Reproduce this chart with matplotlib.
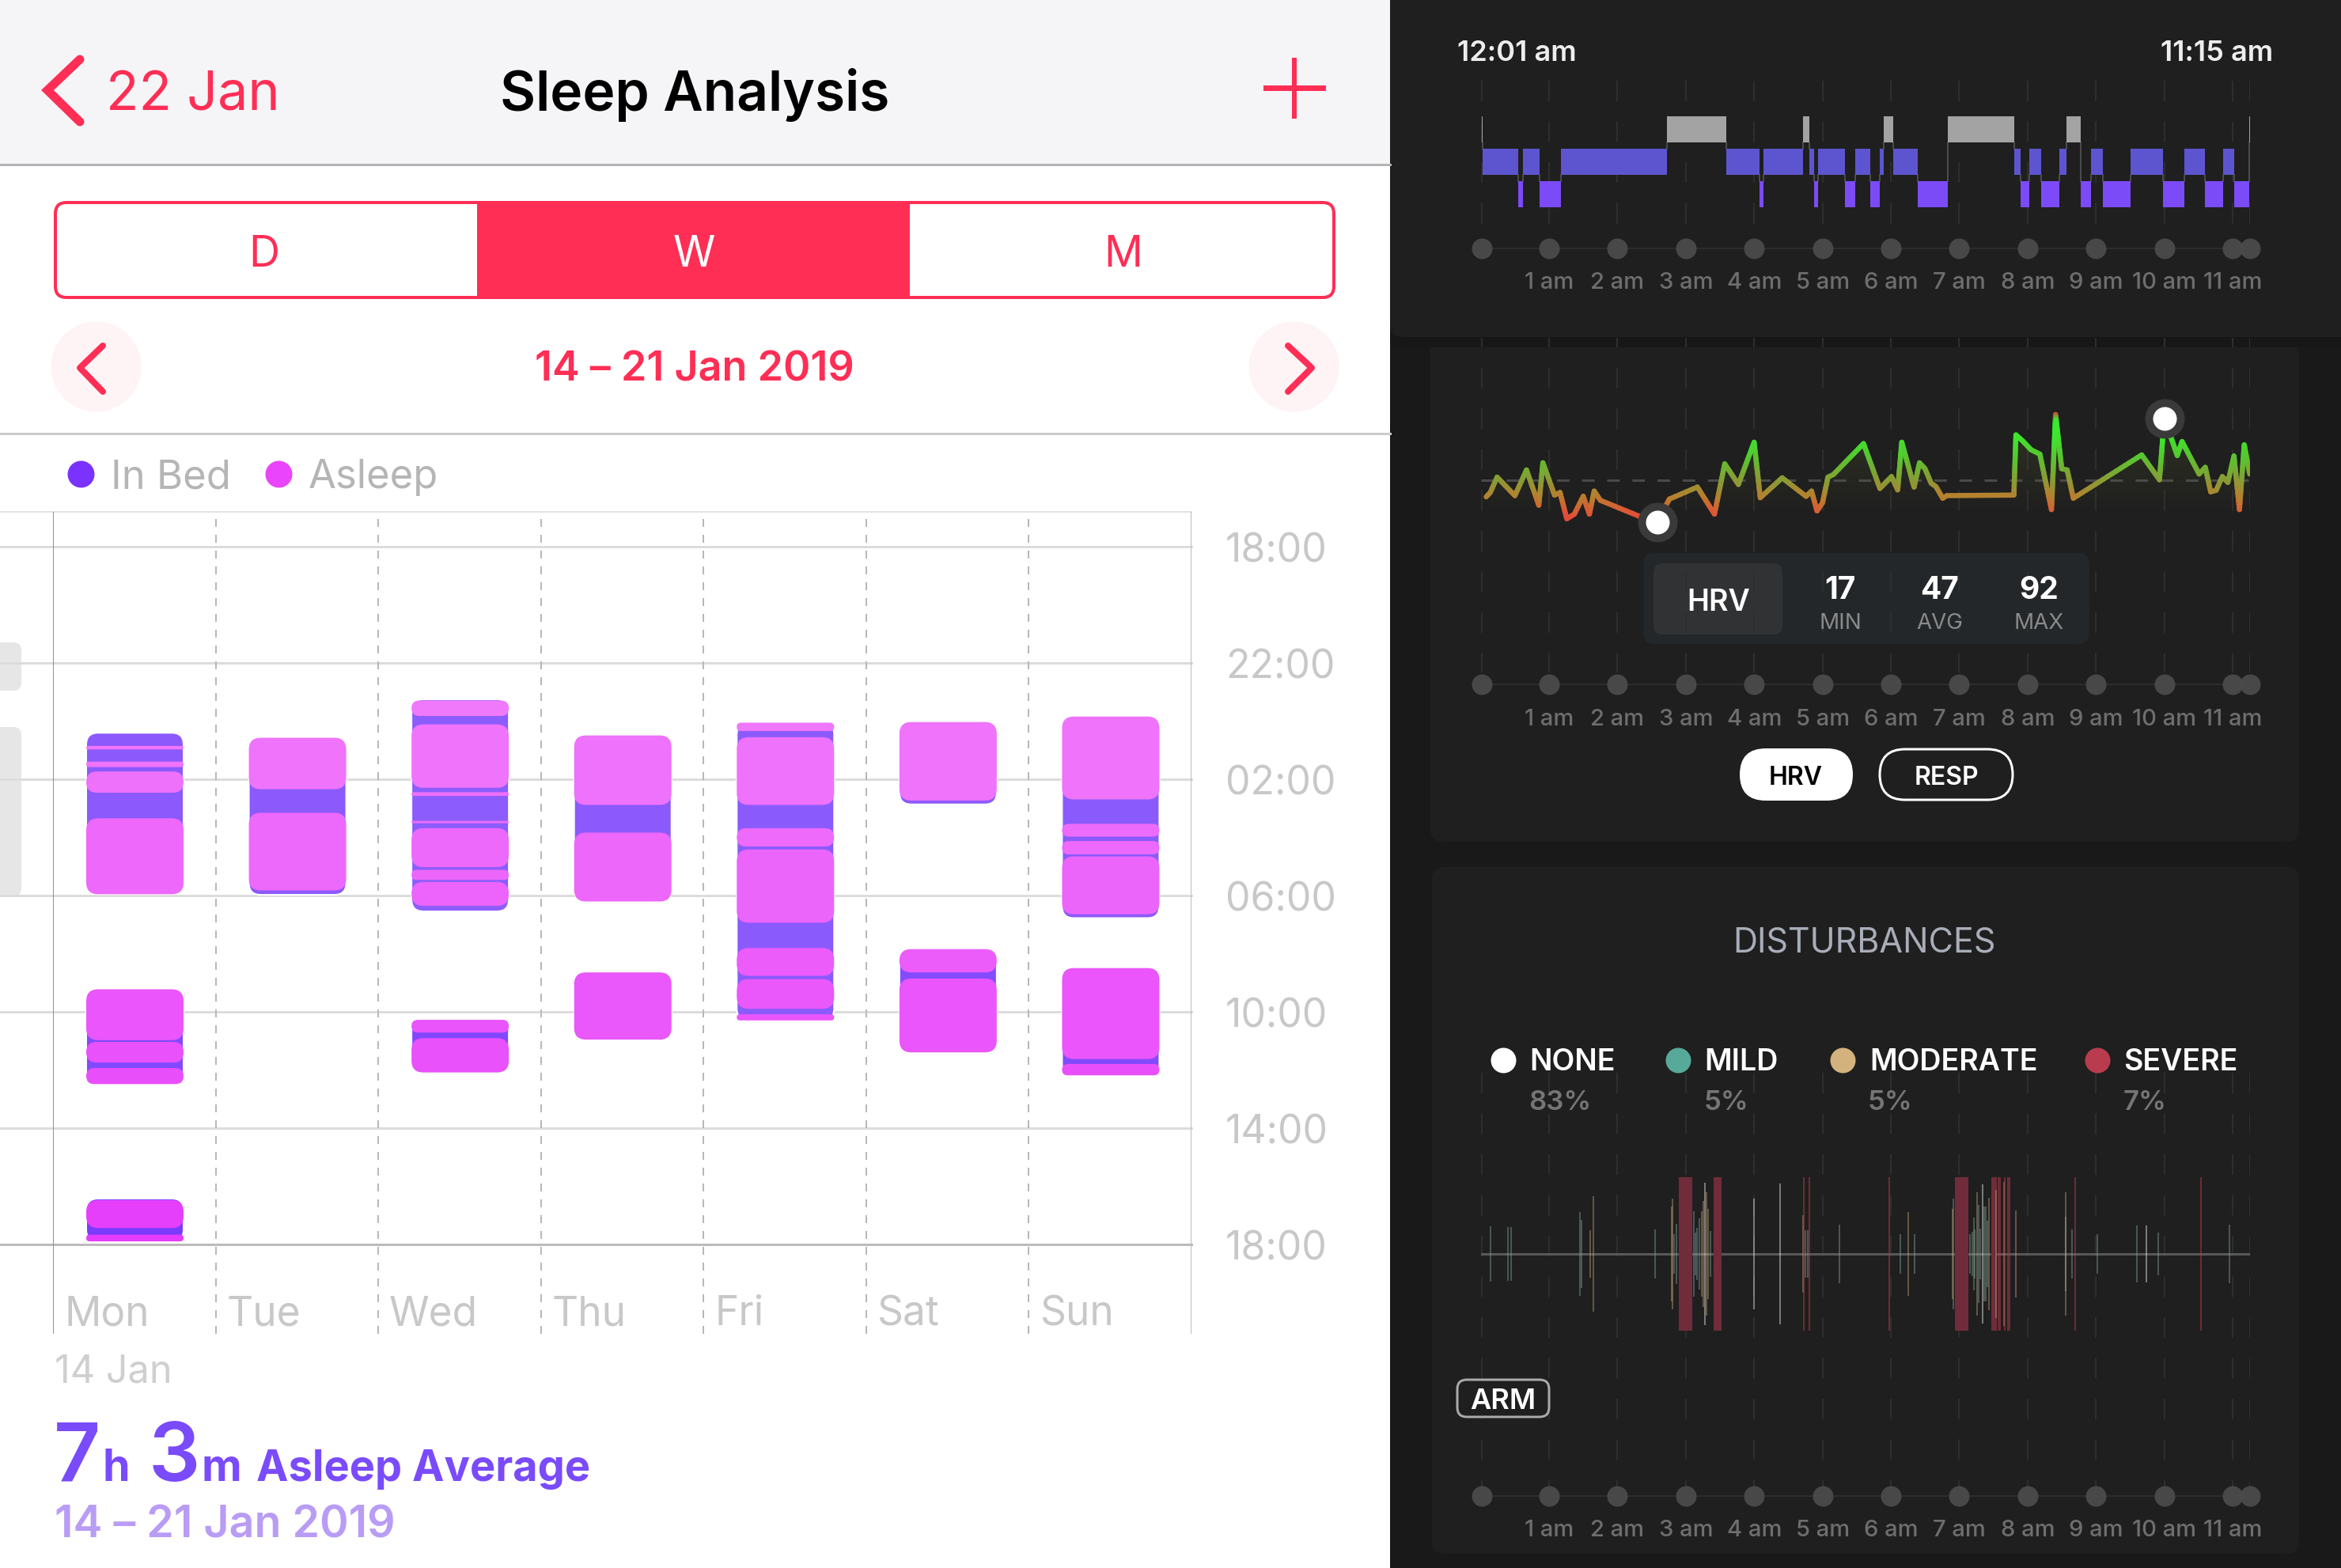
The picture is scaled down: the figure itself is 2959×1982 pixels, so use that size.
import numpy as np
import matplotlib
matplotlib.use("Agg")
import matplotlib.pyplot as plt
from matplotlib.patches import FancyBboxPatch, Rectangle
from matplotlib.collections import LineCollection
from matplotlib.colors import to_rgb

W, H = 2959, 1983
plt.rcParams['font.family'] = ['Inter', 'DejaVu Sans']

# --- weekly chart, hours counted from 18:00 ---
days = ["Mon", "Tue", "Wed", "Thu", "Fri", "Sat", "Sun"]
hour_labels = ["18:00", "22:00", "02:00", "06:00", "10:00", "14:00", "18:00"]
in_bed = [
    [(6.40, 11.95), (15.22, 18.48), (22.42, 23.89)],
    [(6.57, 11.97)],
    [(5.25, 12.54), (16.27, 18.08)],
    [(6.49, 12.20), (14.64, 16.95)],
    [(6.05, 16.29)],
    [(6.03, 8.86), (13.84, 17.39)],
    [(5.84, 12.77), (14.49, 18.18)],
]
asleep = [
    [(6.85, 6.97), (7.39, 7.58), (7.73, 8.46), (9.34, 11.95), (15.22, 16.97), (17.03, 17.74),
     (17.93, 18.48), (22.47, 23.43), (23.66, 23.89)],
    [(6.57, 8.34), (9.15, 11.82)],
    [(5.29, 5.82), (6.11, 8.29), (8.44, 8.57), (9.43, 9.51), (9.68, 11.02), (11.11, 11.46),
     (11.53, 12.35), (16.27, 16.71), (16.90, 18.08)],
    [(6.49, 8.88), (9.83, 12.20), (14.64, 16.95)],
    [(6.05, 6.34), (6.55, 8.88), (9.68, 10.31), (10.41, 12.93), (13.80, 14.76), (14.87, 15.89),
     (16.08, 16.29)],
    [(6.03, 8.73), (13.84, 14.64), (14.85, 17.39)],
    [(5.84, 8.69), (9.53, 9.97), (10.12, 10.58), (10.65, 12.64), (14.49, 17.62), (17.79, 18.18)],
]

# --- night timeline, hours after midnight ---
time_ticks = [0.02, 1, 2, 3, 4, 5, 6, 7, 8, 9, 10, 11, 11.25]
time_labels = ["1 am", "2 am", "3 am", "4 am", "5 am", "6 am", "7 am", "8 am", "9 am", "10 am", "11 am"]

# 2 awake, 1 light, 0 deep
stage_edges = [0.02, 0.03, 0.55, 0.62, 0.86, 1.17, 2.72, 3.59, 4.08, 4.14, 4.71, 4.81, 4.88, 4.94,
               5.33, 5.48, 5.70, 5.84, 5.90, 6.04, 6.39, 6.83, 7.80, 7.90, 8.03, 8.20, 8.46, 8.57,
               8.78, 8.93, 9.10, 9.51, 9.98, 10.29, 10.60, 10.86, 11.02, 11.24, 11.25]
stages = [2, 1, 0, 1, 0, 1, 2, 1, 0, 1, 2, 1, 0, 1, 0, 1, 0, 1, 2, 1, 0, 2, 1, 0, 1, 0, 1, 2,
          0, 1, 0, 1, 0, 1, 0, 1, 0, 2]

hrv_hours = [0.08, 0.14, 0.24, 0.50, 0.67, 0.85, 0.91, 1.08, 1.16, 1.26, 1.37, 1.50, 1.59, 1.66, 1.75,
             2.41, 2.58, 2.76, 3.17, 3.42, 3.57, 3.77, 4.00, 4.09, 4.41, 4.76, 4.84, 4.92, 5.00, 5.08,
             5.16, 5.60, 5.84, 6.01, 6.10, 6.16, 6.34, 6.42, 6.50, 6.59, 6.66, 6.76, 6.82, 7.80, 7.83,
             7.93, 8.05, 8.18, 8.35, 8.41, 8.50, 8.58, 8.67, 9.67, 9.93, 10.00, 10.07, 10.19, 10.26,
             10.51, 10.60, 10.68, 10.76, 10.85, 10.93, 11.02, 11.10, 11.17, 11.25]
hrv_values = [35.2, 38.4, 49.5, 36.1, 54.7, 29.2, 59.9, 36.5, 38.4, 19.3, 22.7, 35.6, 22.7, 39.4, 32.7,
              19.3, 17, 33.6, 42.3, 22.7, 59.1, 44.2, 74.8, 34.6, 49, 35.6, 39.4, 25, 30.8, 49.5,
              51.4, 73.8, 41.3, 49.9, 40.3, 74.8, 42.3, 59.9, 55.6, 45.1, 42.6, 34.2, 36.1, 36.5, 80.1,
              75.7, 69.4, 66.2, 26, 94.9, 55.6, 54.7, 34.2, 65.6, 47.6, 92, 82.4, 65.2, 75.3,
              51.8, 56.6, 38.8, 40, 49.9, 45.7, 64.8, 26, 72.9, 51.8]
hrv_min, hrv_avg, hrv_max = 17, 47, 92
hrv_min_hour, hrv_max_hour = 2.58, 10.00

none_hours = [3.28, 4.00, 4.38, 7.34, 9.74]
none_amp = [0.93, 0.72, 0.92, 0.91, 0.37]
mild_hours = [0.14, 0.40, 0.45, 1.45, 1.47, 2.55, 2.83, 2.86, 3.12, 3.14, 3.17, 3.20, 3.36, 4.75, 4.78,
              5.25, 6.14, 6.35, 6.92, 7.16, 7.19, 7.21, 7.23, 7.29, 7.31, 7.37, 7.39, 7.41, 8.56, 8.65,
              9.02, 9.60, 9.91, 10.95]
mild_amp = [0.36, 0.35, 0.35, 0.55, 0.44, 0.32, 0.26, 0.39, 0.56, 0.28, 0.34, 0.46, 0.30, 0.31, 0.31,
            0.38, 0.26, 0.26, 0.72, 0.26, 0.29, 0.47, 0.32, 0.64, 0.33, 0.62, 0.62, 0.43, 0.48, 0.32,
            0.26, 0.37, 0.28, 0.38]
moderate_hours = [1.60, 1.65, 2.79, 2.81, 3.23, 3.26, 3.30, 3.33, 4.72, 6.26, 6.90, 7.26, 7.44, 7.54,
                  7.65, 7.83, 8.56]
moderate_amp = [0.31, 0.75, 0.62, 0.72, 0.56, 0.69, 0.80, 0.59, 0.51, 0.55, 0.59, 0.80, 0.73, 0.83,
                0.94, 0.57, 0.80]
severe_hours = [4.73, 4.81, 5.98, 7.57, 7.60, 7.67, 7.71, 7.74, 8.70, 10.54]
severe_spans = [(2.90, 3.09), (3.41, 3.52), (6.94, 7.14), (7.47, 7.55)]

legend_names = ["NONE", "MILD", "MODERATE", "SEVERE"]
legend_pcts = ["83%", "5%", "5%", "7%"]

RED = "#FE2E55"
PURPLE = "#7A4BFA"
COL_NONE, COL_MILD, COL_MOD, COL_SEV = "#FFFFFF", "#57A99A", "#D4B27D", "#B83C4E"


def px(v):
    # pixels to points
    return v * 0.72


def box(ax, x0, y0, x1, y1, r, fc, ec="none", lw=0, z=1, aspect=1.0):
    p = FancyBboxPatch((x0, y0), x1 - x0, y1 - y0, boxstyle=f"round,pad=0,rounding_size={r}",
                       fc=fc, ec=ec, lw=px(lw), zorder=z, mutation_aspect=aspect)
    ax.add_patch(p)
    return p


def mix(c1, c2, t):
    a, b = np.array(to_rgb(c1)), np.array(to_rgb(c2))
    return tuple(a + (b - a) * np.clip(t, 0, 1))


fig = plt.figure(figsize=(W / 100, H / 100), dpi=100, facecolor="white")


def pix_axes(left, top, right, bottom, z):
    ax = fig.add_axes([left / W, 1 - bottom / H, (right - left) / W, (bottom - top) / H], zorder=z)
    ax.patch.set_alpha(0)
    return ax


bg = pix_axes(0, 0, W, H, 0)
bg.set_xlim(0, W)
bg.set_ylim(H, 0)
bg.axis("off")

# left phone screen chrome
bg.add_patch(Rectangle((0, 0), 1757, 208, fc="#F5F4F7", ec="none"))
bg.plot([0, 1757], [209, 209], color="#B4B4B4", lw=px(3))
bg.plot([101, 60, 101], [76, 115, 155], color=RED, lw=px(11), solid_capstyle="round", solid_joinstyle="miter")
bg.text(134, 140, "22 Jan", color=RED, fontsize=49, ha="left", va="baseline")
bg.text(878, 140, "Sleep Analysis", color="black", fontsize=50, weight="semibold", ha="center", va="baseline")
bg.plot([1600, 1672], [112, 112], color=RED, lw=px(7))
bg.plot([1636, 1636], [77, 148], color=RED, lw=px(6))

box(bg, 70, 257, 1686, 377, 14, "white", RED, 4)
bg.add_patch(Rectangle((603, 255), 547, 124, fc=RED, ec="none", zorder=2))
for x, s, c in [(334, "D", RED), (877, "W", "white"), (1420, "M", RED)]:
    bg.text(x, 337, s, color=c, fontsize=39, ha="center", va="baseline", zorder=3)

bg.scatter([121, 1635], [464, 464], s=px(114) ** 2, color="#FEF3F5", linewidths=0, zorder=1)
bg.plot([130, 101, 130], [438, 466, 496], color=RED, lw=px(8), solid_capstyle="round", zorder=2)
bg.plot([1628, 1658, 1628], [438, 466, 496], color=RED, lw=px(8), solid_capstyle="round", zorder=2)
bg.text(878, 482, "14 \u2013 21 Jan 2019", color=RED, fontsize=37.5, weight="semibold", ha="center", va="baseline")
bg.plot([0, 1757], [549, 549], color="#CBCBCB", lw=px(3))

bg.scatter([102], [600], s=px(34) ** 2, color="#7A33FF", linewidths=0)
bg.scatter([352], [600], s=px(34) ** 2, color="#EA44FC", linewidths=0)
bg.text(140, 617, "In Bed", color="#B5B5B5", fontsize=36.5, ha="left", va="baseline")
bg.text(390, 617, "Asleep", color="#B5B5B5", fontsize=36.5, ha="left", va="baseline")

# grey tabs clipped by the screen edge
box(bg, -30, 813, 27, 874, 10, "#E6E6E6")
box(bg, -30, 920, 27, 1134, 10, "#E6E6E6")

bg.text(69, 1747, "14 Jan", color="#CFCFCF", fontsize=35, ha="left", va="baseline")
bg.text(68, 1872, "7", color=PURPLE, fontsize=74, weight="semibold", ha="left", va="baseline")
bg.text(130, 1872, "h", color=PURPLE, fontsize=40, weight="bold", ha="left", va="baseline")
bg.text(188, 1872, "3", color=PURPLE, fontsize=74, weight="semibold", ha="left", va="baseline")
bg.text(254, 1872, "m", color=PURPLE, fontsize=40, weight="bold", ha="left", va="baseline")
bg.text(324, 1872, "Asleep Average", color=PURPLE, fontsize=39, weight="bold", ha="left", va="baseline")
bg.text(69, 1943, "14 \u2013 21 Jan 2019", color="#B89CF5", fontsize=40, weight="semibold", ha="left", va="baseline")

# right phone screen cards
bg.add_patch(Rectangle((1757, 0), W - 1757, H, fc="#191919", ec="none"))
box(bg, 1808, 380, 2906, 1065, 16, "#1F1F1F")
box(bg, 1810, 1097, 2906, 1965, 16, "#1F1F1F")
box(bg, 1757, -40, 2990, 440, 16, "#171717", z=1.1)
box(bg, 1757, -40, 2990, 427, 16, "#1F1F1F", z=1.2)

# HRV stat box sits under the faint hour lines
box(bg, 2077, 700, 2641, 815, 14, "#232729", z=1.3)
box(bg, 2090, 713, 2253, 803, 12, "#303234", z=1.4)

# --- weekly chart ---
ax = pix_axes(67, 648, 1506, 1687, 1)
ax.set_xlim(0, 7)
ax.set_ylim(27.07, -1.2)
for s in ax.spines.values():
    s.set_visible(False)
day_w = (1506 - 67) / 7
hour_h = (1574 - 692) / 24
asp = day_w / hour_h
rad = 15 / day_w

hticks = np.arange(0, 25, 4)
ax.set_yticks(hticks)
ax.set_yticklabels(hour_labels)
ax.yaxis.tick_right()
ax.tick_params(axis="y", length=0, pad=px(43), labelsize=36, labelcolor="#C8C8C8")
ax.set_xticks([])
for h in hticks:
    ax.plot([-67 / day_w, 7], [h, h], color="#BBBBBB" if h == 24 else "#DCDCDC", lw=px(3), clip_on=False, zorder=1)
ax.plot([-67 / day_w, 7], [-1.2, -1.2], color="#E2E2E2", lw=px(2), clip_on=False, zorder=1)
ax.axvline(0, color="#929292", lw=px(2), zorder=1)
ax.axvline(7, color="#BBBBBB", lw=px(2), zorder=1)
for i in range(1, 7):
    ax.axvline(i, color="#B8B8B8", lw=px(2), linestyle=(0, (5, 5)), zorder=1)

for i, name in enumerate(days):
    ax.text(i + 14 / day_w, (1675 - 692) / hour_h, name, color="#C8C8C8", fontsize=37, ha="left", va="baseline")

bar_x = (42 / day_w)
bar_w = 123 / day_w
for i in range(7):
    for y0, y1 in in_bed[i]:
        c = mix("#8C5CFC", "#7A38FF", (y0 - 5) / 19)
        box(ax, i + bar_x, y0, i + bar_x + bar_w, y1, rad, c, "white", 2, z=2, aspect=asp)
    for y0, y1 in asleep[i]:
        c = mix("#F07BFB", "#E53BFB", ((y0 + y1) / 2 - 5) / 19)
        r = min(rad, (y1 - y0) / 2 / asp)
        box(ax, i + bar_x, y0, i + bar_x + bar_w, y1, r, c, z=3, aspect=asp)

# --- shared hour scale for the three dark panels ---
time_left, time_right = 1871.6, 2843.6
axt = pix_axes(time_left, 0, time_right, H, 2)
axt.set_xlim(0, 11.25)
axt.set_ylim(H, 0)
axt.axis("off")
tick_col = "#2E2E2E"
axt.vlines(time_ticks, 428, 440, color=tick_col, lw=px(2))
for top, bottom, dot_y, label_y in [(103, 288, 315, 365), (466, 851, 866, 917), (1357, 1895, 1892, 1942)]:
    axt.vlines(time_ticks, top, bottom, color=tick_col, lw=px(2), linestyles=(0, (px(26) / px(2), px(25.5) / px(2))))
    axt.plot([time_ticks[0], time_ticks[-1]], [dot_y, dot_y], color="#2C2C2C", lw=px(2))
    axt.scatter(time_ticks, [dot_y] * len(time_ticks), s=px(26) ** 2, color="#4C4C4C", alpha=0.92, linewidths=0, clip_on=False, zorder=3)
    for h, lab in zip(time_ticks[1:-1], time_labels):
        axt.text(h, label_y, lab, color="#6E6E6E", fontsize=21, weight="medium", ha="center", va="baseline", clip_on=False)


def time_axes(top, bottom, ylim):
    a = pix_axes(time_left, top, time_right, bottom, 3)
    a.set_xlim(0, 11.25)
    a.set_ylim(*ylim)
    a.axis("off")
    return a


# sleep stages
axh = time_axes(103, 283, (-0.888, 3.5))
stage_cols = {2: "#A3A3A3", 1: "#5D55D0", 0: "#7B4BF7"}
edges = np.array(stage_edges)
axh.bar(edges[:-1], 0.8, width=np.diff(edges), bottom=np.array(stages) - 0.4,
        align="edge", color=[stage_cols[s] for s in stages], linewidth=0, zorder=2)
for e, a, b in zip(edges[1:-1], stages[:-1], stages[1:]):
    axh.plot([e, e], [min(a, b) + 0.4, max(a, b) - 0.4], color="#5A5A5A", lw=px(1.5), zorder=1)

# HRV line with colour running from red at low values to green at high ones
axv = time_axes(480, 700, (-5.5, 120.7))
stops_v = [17, 25, 36, 47, 65, 80, 90, 95]
stops_c = [to_rgb(c) for c in ["#E8403A", "#DC5A34", "#B5812F", "#8A9A35", "#55C82F", "#3CE82D", "#3CE82D", "#D83A3A"]]
segs, cols = [], []
for i in range(len(hrv_hours) - 1):
    # split each stretch only so the colour can follow the value
    n = max(2, int(abs(hrv_values[i + 1] - hrv_values[i]) / 2) + 2)
    xs = np.linspace(hrv_hours[i], hrv_hours[i + 1], n)
    ys = np.linspace(hrv_values[i], hrv_values[i + 1], n)
    for j in range(n - 1):
        segs.append([(xs[j], ys[j]), (xs[j + 1], ys[j + 1])])
        m = (ys[j] + ys[j + 1]) / 2
        cols.append([np.interp(m, stops_v, [c[k] for c in stops_c]) for k in range(3)])

grad = np.zeros((200, 2, 4))
grad[..., :3] = to_rgb("#6A7A30")
grad[..., 3] = np.linspace(0.22, 0, 200)[:, None]
im = axv.imshow(grad, extent=(0, 11.25, 24, 90), aspect="auto", origin="upper", zorder=1)
fill = axv.fill_between(hrv_hours, hrv_values, 24, color="none")
im.set_clip_path(fill.get_paths()[0], transform=axv.transData)
axv.set_xlim(0, 11.25)
axv.set_ylim(-5.5, 120.7)

axv.plot([0, 11.25], [hrv_avg, hrv_avg], color="#4A4A4A", lw=px(3), linestyle=(0, (5.3, 5.3)), zorder=2)
axv.add_collection(LineCollection(segs, colors=cols, linewidths=px(6.5), capstyle="round", zorder=3))
axv.scatter([hrv_min_hour, hrv_max_hour], [hrv_min, hrv_max], s=px(50) ** 2, color="#3A3A3A", linewidths=0, zorder=4, clip_on=False)
axv.scatter([hrv_min_hour, hrv_max_hour], [hrv_min, hrv_max], s=px(30) ** 2, color="white", linewidths=0, zorder=5, clip_on=False)

# disturbances
axd = time_axes(1489, 1683, (-1, 1))
axd.plot([0, 11.25], [0, 0], color="#585858", lw=px(3), zorder=1)
for s0, s1 in severe_spans:
    axd.bar(s0, 2, width=s1 - s0, bottom=-1, align="edge", color="#702C3A", linewidth=0, zorder=2)
for hs, amp, col, al in [(none_hours, none_amp, COL_NONE, 0.45), (mild_hours, mild_amp, "#7F9C98", 0.5),
                         (moderate_hours, moderate_amp, COL_MOD, 0.42)]:
    axd.vlines(hs, -np.array(amp), np.array(amp), color=col, alpha=al, lw=px(1.8), zorder=3)
axd.vlines(severe_hours, -1, 1, color=COL_SEV, alpha=0.55, lw=px(1.8), zorder=3)

# --- text and controls over the dark panels ---
fg = pix_axes(0, 0, W, H, 4)
fg.set_xlim(0, W)
fg.set_ylim(H, 0)
fg.axis("off")
fg.text(1842, 77, "12:01 am", color="#EDEDED", fontsize=26, weight="semibold", ha="left", va="baseline")
fg.text(2873, 77, "11:15 am", color="#EDEDED", fontsize=26, weight="semibold", ha="right", va="baseline")

fg.text(2172, 772, "HRV", color="white", fontsize=27, weight="semibold", ha="center", va="baseline")
for x, v, lab in [(2326, hrv_min, "MIN"), (2452, hrv_avg, "AVG"), (2577, hrv_max, "MAX")]:
    fg.text(x, 757, str(v), color="white", fontsize=28, weight="bold", ha="center", va="baseline")
    fg.text(x, 795, lab, color="#8A8A8A", fontsize=20, ha="center", va="baseline")

box(fg, 2199, 947, 2342, 1013, 33, "white")
fg.text(2270, 992, "HRV", color="black", fontsize=23, weight="semibold", ha="center", va="baseline")
box(fg, 2376, 948, 2544, 1012, 32, "none", "white", 3)
fg.text(2460, 992, "RESP", color="white", fontsize=23, weight="semibold", ha="center", va="baseline")

fg.text(2356, 1204, "DISTURBANCES", color="#A8ADB8", fontsize=31, ha="center", va="baseline")
leg_dots = [1900, 2121, 2329, 2651]
leg_text = [1933, 2154, 2363, 2684]
pct_text = [1932, 2154, 2361, 2684]
for i, c in enumerate([COL_NONE, COL_MILD, COL_MOD, COL_SEV]):
    fg.scatter([leg_dots[i]], [1341], s=px(32) ** 2, color=c, linewidths=0)
    fg.text(leg_text[i], 1353, legend_names[i], color="white", fontsize=27, weight="semibold", ha="left", va="baseline")
    fg.text(pct_text[i], 1403, legend_pcts[i], color="#757575", fontsize=25, weight="semibold", ha="left", va="baseline")

box(fg, 1842, 1745, 1958, 1792, 12, "#1F1F1F", "#AAAAAA", 3)
fg.text(1900, 1781, "ARM", color="white", fontsize=26, weight="semibold", ha="center", va="baseline")

fig.savefig("out.png", dpi=100)
plt.close(fig)
